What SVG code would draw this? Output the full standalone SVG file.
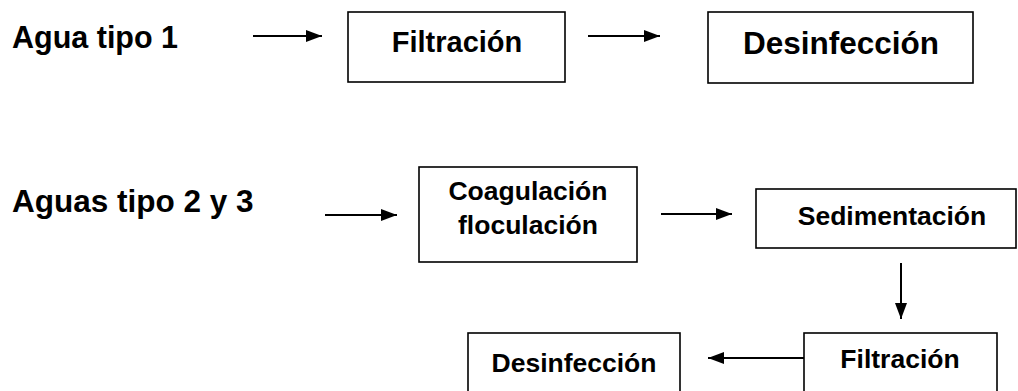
<svg xmlns="http://www.w3.org/2000/svg" width="1018" height="391" viewBox="0 0 1018 391">
<defs>
<style>
.box{fill:#fff;stroke:#000;stroke-width:1.6}
.t{font-family:"Liberation Sans",Arial,sans-serif;font-weight:bold;fill:#000}
.c{text-anchor:middle}
.ln{stroke:#000;stroke-width:2;fill:none}
</style>
<marker id="ah" markerWidth="16" markerHeight="12" refX="16" refY="6" orient="auto" markerUnits="userSpaceOnUse">
<path d="M0,0 L16,6 L0,12 Z" fill="#000"/>
</marker>
</defs>
<rect width="1018" height="391" fill="#fff"/>
<g id="label1"><text class="t" x="12" y="48" font-size="30.5">Agua tipo 1</text></g>
<g id="label2"><text class="t" x="12" y="212" font-size="31.5">Aguas tipo 2 y 3</text></g>
<g id="filtracion1">
<rect class="box" x="348" y="12" width="217" height="70"/>
<text class="t c" x="457" y="52" font-size="29">Filtración</text>
</g>
<g id="desinfeccion1">
<rect class="box" x="708" y="12" width="265" height="71"/>
<text class="t c" x="841" y="54" font-size="31.5">Desinfección</text>
</g>
<g id="coagulacion">
<rect class="box" x="419" y="167" width="218" height="95"/>
<text class="t c" x="528" y="200" font-size="26.5">Coagulación</text>
<text class="t c" x="528" y="234" font-size="26.5">floculación</text>
</g>
<g id="sedimentacion">
<rect class="box" x="756" y="189" width="260" height="59"/>
<text class="t c" x="892" y="225" font-size="26.5">Sedimentación</text>
</g>
<g id="filtracion2">
<rect class="box" x="804" y="333" width="193" height="70"/>
<text class="t c" x="900" y="368" font-size="26.5">Filtración</text>
</g>
<g id="desinfeccion2">
<rect class="box" x="468" y="333" width="212" height="70"/>
<text class="t c" x="574" y="372" font-size="26.5">Desinfección</text>
</g>
<g id="connectors">
<line class="ln" x1="253" y1="36" x2="322" y2="36" marker-end="url(#ah)"/>
<line class="ln" x1="588" y1="36" x2="660" y2="36" marker-end="url(#ah)"/>
<line class="ln" x1="325" y1="215" x2="397" y2="215" marker-end="url(#ah)"/>
<line class="ln" x1="661" y1="214" x2="732" y2="214" marker-end="url(#ah)"/>
<line class="ln" x1="901" y1="263" x2="901" y2="319" marker-end="url(#ah)"/>
<line class="ln" x1="804" y1="358" x2="708" y2="358" marker-end="url(#ah)"/>
</g>
</svg>
